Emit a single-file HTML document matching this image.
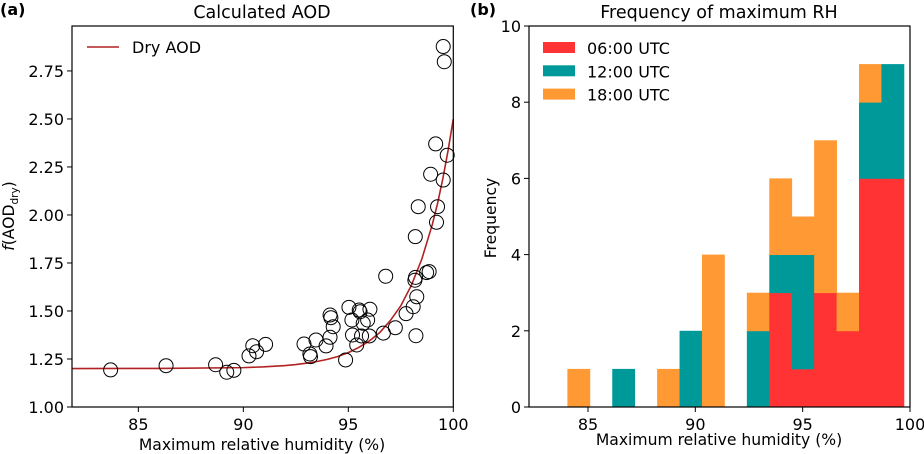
<!DOCTYPE html>
<html><head><meta charset="utf-8">
<style>
body{margin:0;background:#fff;}
svg{display:block;font-family:"DejaVu Sans","Liberation Sans",sans-serif;}
</style></head>
<body>
<svg id="fig" width="924" height="454" viewBox="0 0 924 454" xmlns="http://www.w3.org/2000/svg">
  <text x="0" y="15" font-size="16" font-weight="bold">(a)</text>
  <text x="262" y="18" font-size="17.5" text-anchor="middle">Calculated AOD</text>
  <text x="470" y="15" font-size="16" font-weight="bold">(b)</text>
  <text x="719" y="18" font-size="17.5" text-anchor="middle">Frequency of maximum RH</text>
  <text x="262" y="450" font-size="15.6" text-anchor="middle">Maximum relative humidity (%)</text>
  <text x="719" y="445" font-size="15.6" text-anchor="middle">Maximum relative humidity (%)</text>
  <text transform="translate(14,216) rotate(-90)" font-size="15.6" text-anchor="middle"><tspan font-style="italic">f</tspan>(AOD<tspan font-size="10.5" dy="4">dry</tspan><tspan dy="-4">)</tspan></text>
  <text transform="translate(496,218) rotate(-90)" font-size="15.6" text-anchor="middle">Frequency</text>
  <g id="left"></g>
  <g id="right"></g>
</svg>
<script>
// ---- Left chart data ----
const scatterX = [83.68,86.32,88.68,89.21,89.55,90.27,90.45,90.63,91.06,92.89,93.17,93.2,93.46,93.94,94.13,94.28,94.17,94.13,94.87,95.03,95.17,95.2,95.4,95.52,95.56,95.71,95.63,96.0,96.03,95.92,96.67,96.78,97.24,97.75,98.09,98.26,98.22,98.2,98.17,98.73,98.85,98.19,98.33,99.2,99.25,98.92,99.52,99.16,99.71,99.52,99.57];
const scatterY = [1.193,1.215,1.220,1.181,1.191,1.266,1.319,1.288,1.326,1.328,1.276,1.262,1.349,1.318,1.363,1.418,1.465,1.479,1.245,1.519,1.453,1.375,1.323,1.505,1.496,1.436,1.37,1.37,1.509,1.453,1.385,1.681,1.413,1.486,1.522,1.574,1.371,1.675,1.66,1.70,1.705,1.887,2.043,1.962,2.043,2.212,2.182,2.370,2.311,2.877,2.798];
const curveX = [81.84,86,90,91,92,92.5,93,93.5,94,94.5,95,95.5,96,96.5,97,97.5,98,98.5,99,99.25,99.5,99.75,100];
const curveY = [1.2,1.201,1.205,1.209,1.216,1.221,1.228,1.237,1.248,1.263,1.283,1.31,1.344,1.388,1.450,1.527,1.633,1.770,1.950,2.060,2.188,2.335,2.5];
const leftXTicks = [85,90,95,100];
const leftYTicks = [1.00,1.25,1.50,1.75,2.00,2.25,2.50,2.75];
// ---- Right chart data ----
const binStart = 84.04;
const binWidth = 1.045;
const red06 =   [0,0,0,0,0,0,0,0,0,3,1,3,2,6,6];
const teal12 =  [0,0,1,0,0,2,0,0,2,1,3,0,0,2,3];
const orange18 =[1,0,0,0,1,0,4,0,1,2,1,4,1,1,0];
const rightXTicks = [85,90,95,100];
const rightYTicks = [0,2,4,6,8,10];
const seriesNames = ["06:00 UTC","12:00 UTC","18:00 UTC"];
const seriesColors = ["#ff3333","#009999","#ff9933"];

const NS="http://www.w3.org/2000/svg";
function mk(parent,tag,attrs){const e=document.createElementNS(NS,tag);for(const k in attrs)e.setAttribute(k,attrs[k]);parent.appendChild(e);return e;}

// Left axes
const L={x0:72,x1:453.3,y0:407,y1:26,xmin:81.84,xmax:100,ymin:1,ymax:2.984};
const lx=v=>L.x0+(v-L.xmin)/(L.xmax-L.xmin)*(L.x1-L.x0);
const ly=v=>L.y0-(v-L.ymin)/(L.ymax-L.ymin)*(L.y0-L.y1);
const left=document.getElementById('left');
let d='';
curveX.forEach((v,i)=>{d+=(i?'L':'M')+lx(v).toFixed(2)+','+ly(curveY[i]).toFixed(2);});
const cl=mk(left,'path',{d:d,fill:'none',stroke:'#b22222','stroke-width':1.6,'stroke-linejoin':'round'});


scatterX.forEach((v,i)=>{
  const c=mk(left,'circle',{cx:lx(v),cy:ly(scatterY[i]),r:7,fill:'none',stroke:'#000','stroke-width':1});
  
  
});
const lf=mk(left,'rect',{x:L.x0,y:L.y1,width:L.x1-L.x0,height:L.y0-L.y1,fill:'none',stroke:'#000','stroke-width':1.2});


leftXTicks.forEach(t=>{
  mk(left,'line',{x1:lx(t),x2:lx(t),y1:L.y0,y2:L.y0+5,stroke:'#000'});
  const tx=mk(left,'text',{x:lx(t),y:L.y0+23,'font-size':16,'text-anchor':'middle'});tx.textContent=t;
  
  
});
leftYTicks.forEach(t=>{
  mk(left,'line',{x1:L.x0-5,x2:L.x0,y1:ly(t),y2:ly(t),stroke:'#000'});
  const tx=mk(left,'text',{x:L.x0-8,y:ly(t)+6,'font-size':16,'text-anchor':'end'});tx.textContent=t.toFixed(2);
  
  
});
const lg=mk(left,'g',{});


mk(lg,'line',{x1:87,x2:119,y1:47,y2:47,stroke:'#b22222','stroke-width':1.6});
const lgt=mk(lg,'text',{x:132,y:53,'font-size':16});lgt.textContent='Dry AOD';

// Right axes
const R={x0:529,x1:910,y0:407,y1:26,ymin:0,ymax:10};
const rx=v=>588+(v-85)*(910-588)/15;
const ry=v=>R.y0-(v-R.ymin)/(R.ymax-R.ymin)*(R.y0-R.y1);
const right=document.getElementById('right');
const series=[red06,teal12,orange18];
for(let b=0;b<red06.length;b++){
  let base=0;
  const xa=rx(binStart+b*binWidth), xb=rx(binStart+(b+1)*binWidth);
  series.forEach((s,si)=>{
    if(s[b]>0){
      const r=mk(right,'rect',{x:xa,y:ry(base+s[b]),width:xb-xa+0.4,height:ry(base)-ry(base+s[b])+0.4,fill:seriesColors[si]});
      
      
    }
    base+=s[b];
  });
}
const rf=mk(right,'rect',{x:R.x0,y:R.y1,width:R.x1-R.x0,height:R.y0-R.y1,fill:'none',stroke:'#000','stroke-width':1.2});


rightXTicks.forEach(t=>{
  mk(right,'line',{x1:rx(t),x2:rx(t),y1:R.y0,y2:R.y0+5,stroke:'#000'});
  const tx=mk(right,'text',{x:rx(t),y:R.y0+23,'font-size':16,'text-anchor':'middle'});tx.textContent=t;
  
  
});
rightYTicks.forEach(t=>{
  mk(right,'line',{x1:R.x0-5,x2:R.x0,y1:ry(t),y2:ry(t),stroke:'#000'});
  const tx=mk(right,'text',{x:R.x0-8,y:ry(t)+6,'font-size':16,'text-anchor':'end'});tx.textContent=t;
  
  
});
seriesNames.forEach((n,i)=>{
  const g=mk(right,'g',{});
  
  
  mk(g,'rect',{x:543,y:42+i*23.3,width:32,height:11,fill:seriesColors[i]});
  const t=mk(g,'text',{x:587,y:54+i*23.3,'font-size':16});t.textContent=n;
});
</script>
</body></html>
